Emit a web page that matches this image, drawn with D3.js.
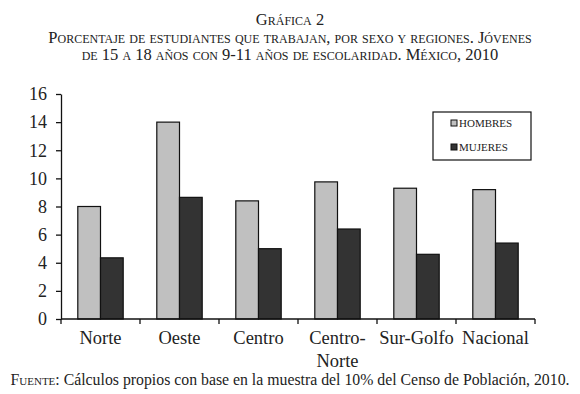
<!DOCTYPE html>
<html>
<head>
<meta charset="utf-8">
<script src="https://cdn.jsdelivr.net/npm/d3@7"></script>
<style>
  body { margin: 0; background: #fff; }
  svg { display: block; font-family: "Liberation Serif", "DejaVu Serif", serif; }
</style>
</head>
<body>
<svg id="chart" width="580" height="394"></svg>
<script>
// data
const regions = ["Norte", "Oeste", "Centro", "Centro-Norte", "Sur-Golfo", "Nacional"];
const regionLines = [["Norte"], ["Oeste"], ["Centro"], ["Centro-", "Norte"], ["Sur-Golfo"], ["Nacional"]];
const hombres = [8.0, 14.0, 8.4, 9.75, 9.3, 9.2];
const mujeres = [4.35, 8.65, 5.0, 6.4, 4.6, 5.4];
const series = ["HOMBRES", "MUJERES"];
const yTicks = [0, 2, 4, 6, 8, 10, 12, 14, 16];

const svg = d3.select("#chart");
const margin = {left: 61, right: 45, top: 94, bottom: 75};
const W = 580, H = 394;

// title, small caps
const titleLines = [
  "Gráfica 2",
  "Porcentaje de estudiantes que trabajan, por sexo y regiones. Jóvenes",
  "de 15 a 18 años con 9-11 años de escolaridad. México, 2010"
];
svg.append("g").selectAll("text")
  .data(titleLines)
  .join("text")
    .attr("x", W / 2)
    .attr("y", (d, i) => 25 + i * 17.5)
    .attr("text-anchor", "middle")
    .style("font-size", "16.5px")
    .style("font-variant", "small-caps")
    .attr("fill", "#222")
    .text(d => d);

// scales
const x = d3.scaleBand()
  .domain(regions)
  .range([margin.left, W - margin.right])
  .paddingInner(0)
  .paddingOuter(0);
const inner = d3.scaleBand()
  .domain(series)
  .range([0, x.bandwidth()])
  .paddingOuter(0.74)
  .paddingInner(0);
const y = d3.scaleLinear()
  .domain([0, 16])
  .range([H - margin.bottom, margin.top]);

const colors = {HOMBRES: "#c0c0c0", MUJERES: "#333333"};

// bars
const g = svg.append("g");
regions.forEach((r, i) => {
  const vals = [hombres[i], mujeres[i]];
  g.selectAll(null)
    .data(series.map((s, k) => ({s, v: vals[k]})))
    .join("rect")
      .attr("x", d => x(r) + inner(d.s))
      .attr("y", d => y(d.v))
      .attr("width", inner.bandwidth())
      .attr("height", d => y(0) - y(d.v))
      .attr("fill", d => colors[d.s])
      .attr("stroke", "#111")
      .attr("stroke-width", 1.2);
});

// y axis
const yAxis = svg.append("g")
  .attr("transform", `translate(${margin.left},0)`)
  .call(d3.axisLeft(y).tickValues(yTicks).tickSize(5).tickSizeOuter(0).tickPadding(9));
yAxis.selectAll("text").style("font-size", "18px").attr("fill", "#222")
  .style("font-family", "Liberation Serif, serif");
yAxis.selectAll("line, path").attr("stroke", "#111").attr("stroke-width", 1.3);

// x axis: ticks at category boundaries
const xAxisG = svg.append("g")
  .attr("transform", `translate(0,${y(0)})`);
xAxisG.append("line")
  .attr("x1", margin.left).attr("x2", W - margin.right)
  .attr("stroke", "#111").attr("stroke-width", 1.3);
const bounds = regions.map(r => x(r)).concat([x(regions[regions.length - 1]) + x.bandwidth()]);
xAxisG.selectAll("line.tk")
  .data(bounds)
  .join("line")
    .attr("class", "tk")
    .attr("x1", d => d).attr("x2", d => d)
    .attr("y1", 0).attr("y2", 5)
    .attr("stroke", "#111").attr("stroke-width", 1.3);
const labels = xAxisG.selectAll("text.lab")
  .data(regions)
  .join("text")
    .attr("class", "lab")
    .attr("text-anchor", "middle")
    .attr("fill", "#222")
    .style("font-size", "18.5px");
labels.each(function(d, i) {
  const t = d3.select(this);
  regionLines[i].forEach((ln, k) => {
    t.append("tspan")
      .attr("x", x(d) + x.bandwidth() / 2)
      .attr("y", 25 + k * 23)
      .text(ln);
  });
});

// legend
const leg = svg.append("g").attr("transform", "translate(433,112)");
leg.append("rect")
  .attr("width", 98).attr("height", 48)
  .attr("fill", "#fff").attr("stroke", "#111").attr("stroke-width", 1.2);
series.forEach((s, k) => {
  leg.append("rect")
    .attr("x", 18).attr("y", 8 + k * 24)
    .attr("width", 6).attr("height", 6)
    .attr("fill", colors[s]).attr("stroke", "#111").attr("stroke-width", 1);
  leg.append("text")
    .attr("x", 26).attr("y", 15 + k * 24)
    .style("font-size", "11px")
    .attr("fill", "#222")
    .text(s);
});

// source note
svg.append("text")
  .attr("x", W / 2)
  .attr("y", 385)
  .attr("text-anchor", "middle")
  .attr("fill", "#222")
  .style("font-size", "15.8px")
  .call(t => {
    t.append("tspan").style("font-variant", "small-caps").text("Fuente:");
    t.append("tspan").text(" Cálculos propios con base en la muestra del 10% del Censo de Población, 2010.");
  });
</script>
</body>
</html>
